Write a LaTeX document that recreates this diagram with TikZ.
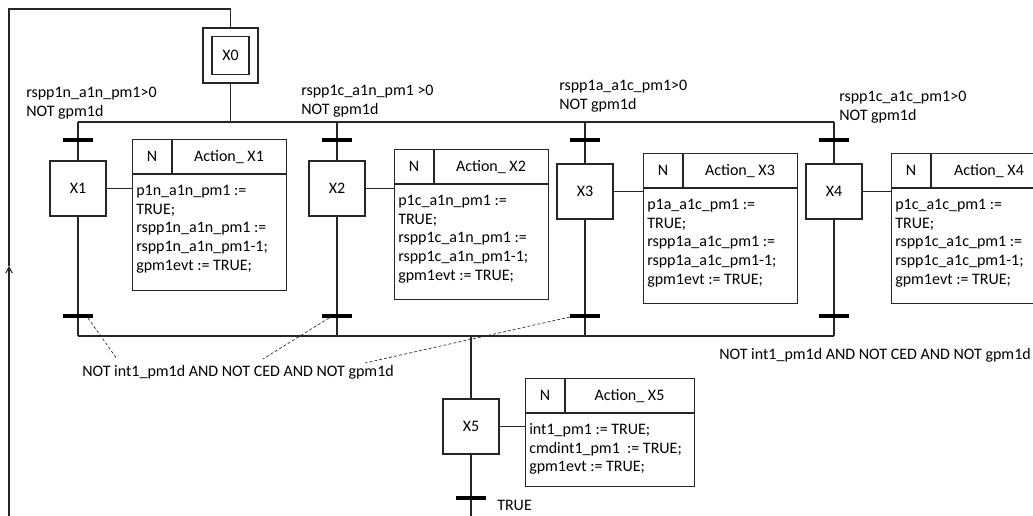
\documentclass[tikz,border=0pt]{standalone}
\usepackage{fontspec}
\setmainfont{Carlito}
\usetikzlibrary{calc,arrows.meta}
\newcommand\fs{\fontsize{12}{14}\selectfont}
\newcommand\grafact[7]{% name, x, y, w, h, title, body
  \node[actbox, minimum width=#4*0.75pt, minimum height=#5*0.75pt, anchor=north west] (#1) at (#2,#3) {};
  \draw[ln] ($(#1.north west)+(0,35)$) -- ($(#1.north east)+(0,35)$);
  \draw[ln] ($(#1.north west)+(40,0)$) -- ($(#1.north west)+(40,35)$);
  \node[hdr] at ($(#1.north west)+(20,17.5)$) {N};
  \node[hdr] at ($(#1.north west)+({(40+#4)/2},17.5)$) {#6};
  \node[body] at ($(#1.north west)+(4,43.1)$) {\strut #7};
}
\begin{document}
\begin{tikzpicture}[x=0.75pt,y=-0.75pt,
  ln/.style={line width=0.8pt, draw=black!85},
  stepbox/.style={draw=black!85, line width=0.8pt, minimum width=56*0.75pt, minimum height=55*0.75pt, inner sep=0pt, font=\fs},
  actbox/.style={draw=black!85, line width=0.8pt, inner sep=0pt},
  hdr/.style={inner sep=0pt, font=\fs, text height=7.7pt, text depth=0pt},
  body/.style={inner sep=0pt, font=\fs, align=left, anchor=north west},
  lbl/.style={inner sep=0pt, font=\fs, text height=7.7pt, text depth=0pt, anchor=west},
  bar/.style={line width=3pt, draw=black},
  dsh/.style={line width=0.5pt, draw=black!85, dash pattern=on 2.2pt off 1.6pt}
]
\useasboundingbox (0,0) rectangle (1033,515);
\clip (0,0) rectangle (1033,515);

% initial step
\node[draw=black!85, line width=0.8pt, minimum width=55*0.75pt, minimum height=55*0.75pt, inner sep=0pt] (x0o) at (230.5,55.5) {};
\node[draw=black!85, line width=0.8pt, minimum width=37*0.75pt, minimum height=38*0.75pt, inner sep=0pt, font=\fs] (x0) at (230.5,55.5) {X0};

% steps
\node[stepbox] (x1) at (78,188.5) {X1};
\node[stepbox] (x2) at (337,188.5) {X2};
\node[stepbox] (x3) at (585,191.5) {X3};
\node[stepbox] (x4) at (834,191.5) {X4};
\node[stepbox] (x5) at (471,426.5) {X5};

% divergence / convergence lines
\coordinate (tl) at (78,122);
\coordinate (tr) at (834,122);
\coordinate (bl) at (78,336);
\coordinate (br) at (834,336);
\coordinate (bot) at (471,516);

\draw[ln] (x0o.south) -- (x0o.south |- tl);
\draw[ln] (tl) -- (tr);
\draw[ln] (bl) -- (br);
\foreach \s in {x1,x2,x3,x4}{
  \draw[ln] (\s.north |- tl) -- (\s.north);
  \draw[ln] (\s.south) -- (\s.south |- bl);
}
\draw[ln] (x5.north |- bl) -- (x5.north);
\draw[ln] (x5.south) -- (bot);

% transitions (bars)
\foreach \s/\n in {x1/1,x2/2,x3/3,x4/4}{
  \coordinate (ta\n) at (\s.north |- 0,140);
  \coordinate (tb\n) at (\s.south |- 0,316);
  \draw[bar] ($(ta\n)+(-15,0)$) -- ($(ta\n)+(15,0)$);
  \draw[bar] ($(tb\n)+(-15,0)$) -- ($(tb\n)+(15,0)$);
}
\coordinate (t5) at (x5.south |- 0,498);
\draw[bar] ($(t5)+(-15,0)$) -- ($(t5)+(15,0)$);

% loop back to initial step
\coordinate (lb) at (9,516);
\coordinate (la) at (9,266);
\coordinate (lt) at (9,9);
\draw[ln, -{Straight Barb[length=4.5pt,width=5pt]}] (lb) -- (la);
\draw[ln] (la) -- (lt) -| (x0o.north);

% action boxes
\grafact{a1}{132}{139}{154}{151}{Action\_ X1}{p1n\_a1n\_pm1 :=\\TRUE;\\rspp1n\_a1n\_pm1 :=\\rspp1n\_a1n\_pm1-1;\\gpm1evt := TRUE;}
\grafact{a2}{394}{149}{154}{150}{Action\_ X2}{p1c\_a1n\_pm1 :=\\TRUE;\\rspp1c\_a1n\_pm1 :=\\rspp1c\_a1n\_pm1-1;\\gpm1evt := TRUE;}
\grafact{a3}{643}{153}{154}{150}{Action\_ X3}{p1a\_a1c\_pm1 :=\\TRUE;\\rspp1a\_a1c\_pm1 :=\\rspp1a\_a1c\_pm1-1;\\gpm1evt := TRUE;}
\grafact{a4}{891}{153}{156}{150}{Action\_ X4}{p1c\_a1c\_pm1 :=\\TRUE;\\rspp1c\_a1c\_pm1 :=\\rspp1c\_a1c\_pm1-1;\\gpm1evt := TRUE;}
\grafact{a5}{525}{378}{169}{108}{Action\_ X5}{int1\_pm1 := TRUE;\\cmdint1\_pm1 \ := TRUE;\\gpm1evt := TRUE;}

\foreach \n in {1,...,5}{
  \draw[ln] (x\n.east) -- (x\n.east -| a\n.west);
}

% transition conditions
\node[body] (c1) at (26,84.1) {\strut rspp1n\_a1n\_pm1>0\\NOT gpm1d};
\node[body] (c2) at (301,82.1) {\strut rspp1c\_a1n\_pm1 >0\\NOT gpm1d};
\node[body] (c3) at (559,77.1) {\strut rspp1a\_a1c\_pm1>0\\NOT gpm1d};
\node[body] (c4) at (839,88.1) {\strut rspp1c\_a1c\_pm1>0\\NOT gpm1d};

\node[lbl] (cl) at (82,371) {NOT int1\_pm1d AND NOT CED AND NOT gpm1d};
\node[lbl] (cr) at (719,354) {NOT int1\_pm1d AND NOT CED AND NOT gpm1d};
\node[lbl] (ct) at (497,505.5) {TRUE};

% dashed leaders
\coordinate (d1) at (117,359);
\coordinate (d2) at (263,359);
\coordinate (d3) at (365,363);
\draw[dsh] ($(tb1)+(10,2)$) -- (d1);
\draw[dsh] ($(tb2)+(-8,2)$) -- (d2);
\draw[dsh] ($(tb3)+(-15,1)$) -- (d3);
\end{tikzpicture}
\end{document}
